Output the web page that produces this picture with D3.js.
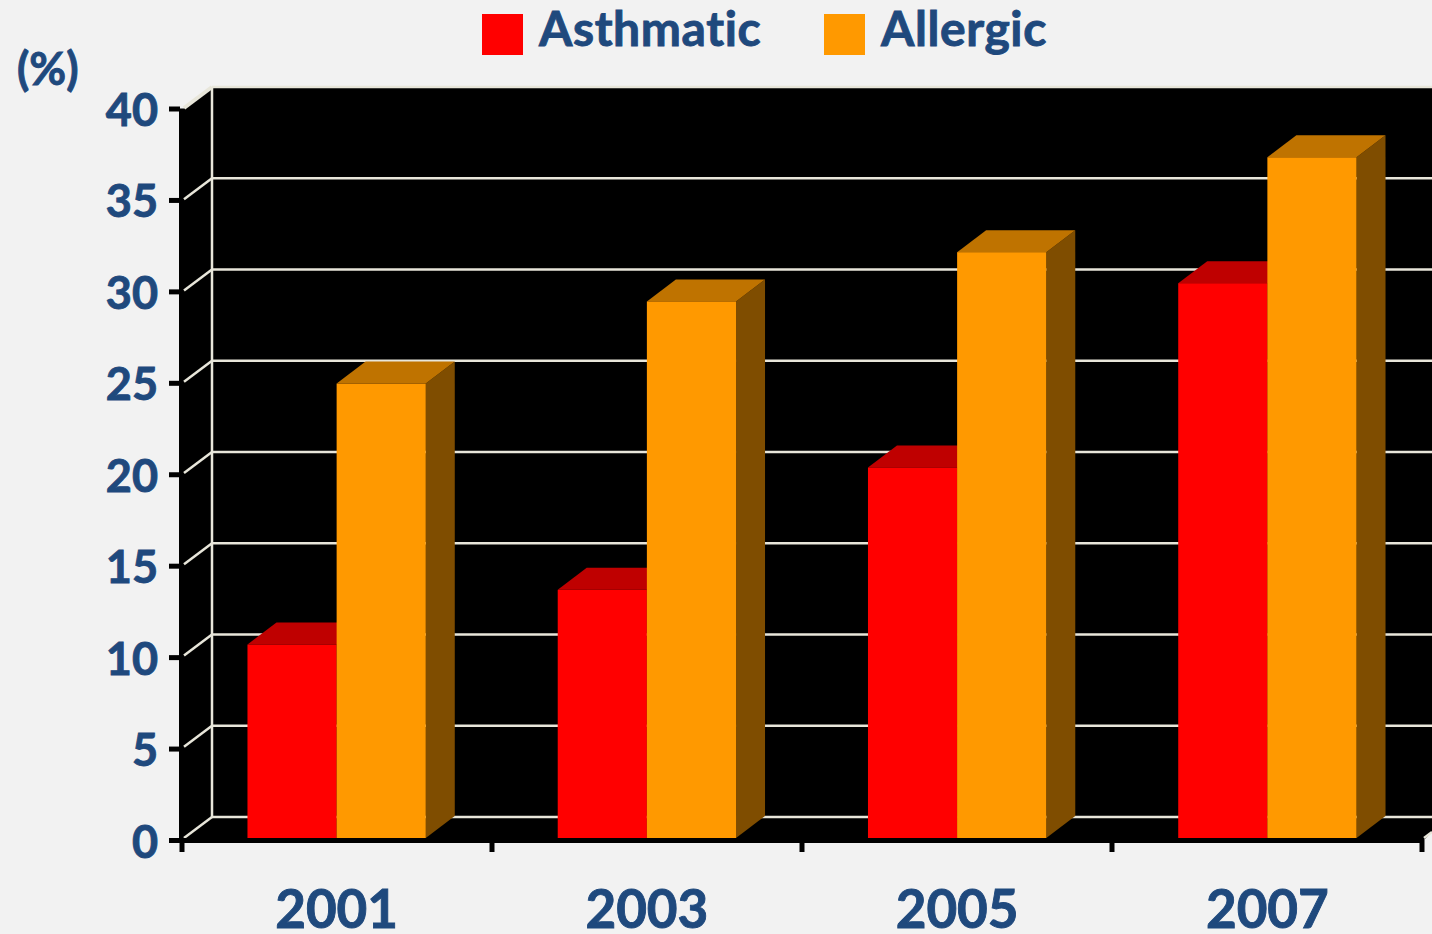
<!DOCTYPE html>
<html lang="en">
<head>
  <meta charset="utf-8">
  <script src="https://d3js.org/d3.v7.min.js"></script>
  <style>
    html, body { margin: 0; padding: 0; background: #f2f2f2; overflow: hidden; }
    text {
      font-family: Lato, "Open Sans", sans-serif;
      font-weight: 700;
      font-variant-ligatures: none;
      fill: #1f497d;
      stroke: #1f497d;
      stroke-width: 0.9px;
    }
  </style>
</head>
<body>
<div id="chart"></div>
<script>
  var years = ["2001", "2003", "2005", "2007"];
  var seriesNames = ["Asthmatic", "Allergic"];
  var asthmatic = [10.6, 13.6, 20.3, 30.4];
  var allergic = [24.9, 29.4, 32.1, 37.3];
  var yTicks = [0, 5, 10, 15, 20, 25, 30, 35, 40];

  var width = 1432, height = 934;
  var depthX = 29, depthY = 22;

  var faceColors = {
    Asthmatic: {front: "#ff0000", top: "#bf0000", side: "#7f0000"},
    Allergic: {front: "#ff9900", top: "#bf7300", side: "#7f4d00"}
  };

  var svg = d3.select("#chart").append("svg")
    .attr("width", width)
    .attr("height", height)
    .style("display", "block");

  // bars sit a little above the axis line, back wall is offset up and right
  var y = d3.scaleLinear().domain([0, 40]).range([838, 108]);
  var yAxisScale = d3.scaleLinear().domain([0, 40]).range([840, 108.5]);
  var yBack = d3.scaleLinear().domain([0, 40]).range([817, 87]);

  var x0 = d3.scaleBand().domain(years).range([181.5, 1422.5]);
  var x1 = d3.scaleBand().domain(seriesNames).range([0, x0.bandwidth()]).paddingInner(0).paddingOuter(0.74);
  var xTickScale = d3.scaleLinear().domain([0, years.length]).range([181.5, 1421.5]);

  // black plot area
  svg.append("path")
    .attr("d", "M179," + yAxisScale(40) + "L184," + yAxisScale(40) + "L212," + yBack(40) + "H" + width +
      "V832L1424," + yAxisScale(0) + "H179Z")
    .attr("fill", "#000");

  var gridColor = "#e8e6da";
  var grid = svg.append("g").attr("fill", "none").attr("stroke", gridColor).attr("stroke-width", 2.5);

  grid.selectAll("line.back")
    .data(yTicks)
    .enter().append("line")
    .attr("class", "back")
    .attr("x1", 212)
    .attr("x2", width)
    .attr("y1", function (d) { return yBack(d); })
    .attr("y2", function (d) { return yBack(d); });

  grid.selectAll("line.wall")
    .data(yTicks)
    .enter().append("line")
    .attr("class", "wall")
    .attr("x1", 184)
    .attr("x2", 212)
    .attr("y1", function (d) { return yBack(d) + 21; })
    .attr("y2", function (d) { return yBack(d); })
    .attr("stroke-width", function (d) { return d === 40 ? 4 : 2.5; });

  grid.append("line")
    .attr("x1", 212).attr("x2", 212)
    .attr("y1", yBack(40)).attr("y2", yBack(0));

  grid.append("line")
    .attr("x1", 1424).attr("x2", width)
    .attr("y1", yBack(0) + 21).attr("y2", yBack(0) + 15);

  // axes
  var yAxis = d3.axisLeft(yAxisScale)
    .tickValues(yTicks)
    .tickSize(11)
    .tickPadding(11)
    .tickSizeOuter(0);

  var gY = svg.append("g")
    .attr("transform", "translate(180,0)")
    .call(yAxis);
  gY.select(".domain").remove();
  gY.selectAll("line").attr("stroke", "#000").attr("stroke-width", 5);
  gY.selectAll("text")
    .attr("dy", null)
    .attr("y", 17)
    .style("font-size", "45px");

  var xAxis = d3.axisBottom(xTickScale)
    .tickValues(d3.range(years.length + 1))
    .tickFormat("")
    .tickSize(12)
    .tickSizeOuter(0);

  var gX = svg.append("g")
    .attr("transform", "translate(0,840)")
    .call(xAxis);
  gX.select(".domain").attr("stroke", "#000").attr("stroke-width", 5);
  gX.selectAll("line").attr("stroke", "#000").attr("stroke-width", 5);

  var gXLabels = svg.append("g")
    .attr("transform", "translate(0,928)")
    .call(d3.axisBottom(x0).tickSize(0).tickPadding(0));
  gXLabels.select(".domain").remove();
  gXLabels.selectAll("text")
    .attr("dy", null)
    .attr("y", 0)
    .style("font-size", "53px");

  // 3d bars
  var rows = [];
  years.forEach(function (year, i) {
    rows.push({year: year, name: "Asthmatic", value: asthmatic[i]});
    rows.push({year: year, name: "Allergic", value: allergic[i]});
  });

  var bars = svg.selectAll("g.bar")
    .data(rows)
    .enter().append("g")
    .attr("class", "bar");

  function barLeft(d) { return x0(d.year) + x1(d.name); }

  bars.append("polygon")
    .attr("fill", function (d) { return faceColors[d.name].side; })
    .attr("points", function (d) {
      var r = barLeft(d) + x1.bandwidth();
      return [[r, y(d.value)], [r + depthX, y(d.value) - depthY], [r + depthX, y(0) - depthY], [r, y(0)]].join(" ");
    });

  bars.append("polygon")
    .attr("fill", function (d) { return faceColors[d.name].top; })
    .attr("points", function (d) {
      var l = barLeft(d), r = l + x1.bandwidth();
      return [[l, y(d.value)], [l + depthX, y(d.value) - depthY], [r + depthX, y(d.value) - depthY], [r, y(d.value)]].join(" ");
    });

  bars.append("rect")
    .attr("fill", function (d) { return faceColors[d.name].front; })
    .attr("x", barLeft)
    .attr("y", function (d) { return y(d.value); })
    .attr("width", x1.bandwidth())
    .attr("height", function (d) { return y(0) - y(d.value); });

  // legend
  var legendX = d3.scalePoint().domain(seriesNames).range([482, 824]);

  var legend = svg.selectAll("g.legend")
    .data(seriesNames)
    .enter().append("g")
    .attr("class", "legend")
    .attr("transform", function (d) { return "translate(" + legendX(d) + ",14)"; });

  legend.append("rect")
    .attr("width", 41)
    .attr("height", 41)
    .attr("fill", function (d) { return faceColors[d].front; });

  legend.append("text")
    .attr("x", 57)
    .attr("y", 32)
    .style("font-size", "48px")
    .style("letter-spacing", "0.6px")
    .text(function (d) { return d; });

  svg.append("text")
    .attr("x", 17)
    .attr("y", 85)
    .style("font-size", "45px")
    .text("(%)");
</script>
</body>
</html>
